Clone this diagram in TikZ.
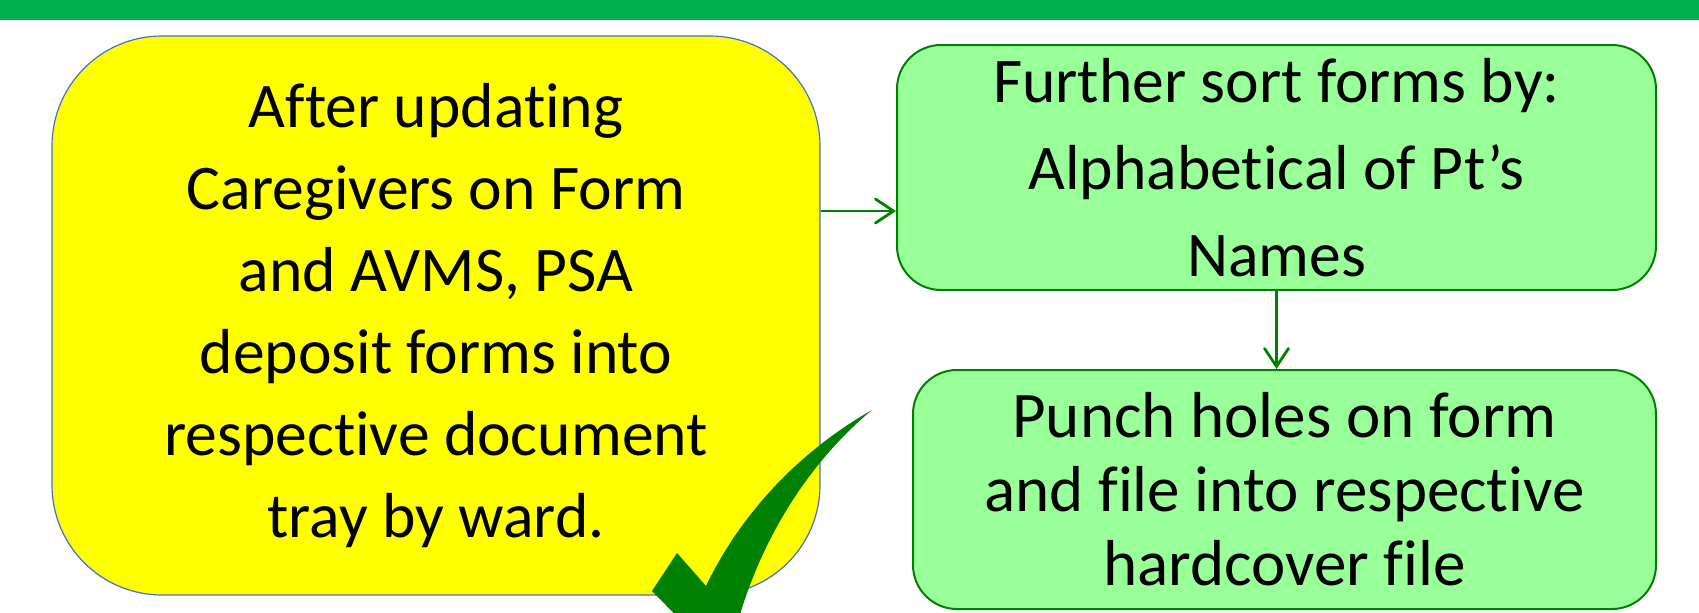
\documentclass[tikz,border=0pt]{standalone}
\usepackage{fontspec}
\setmainfont{Carlito}[Ligatures={NoCommon,NoRequired,NoContextual},RawFeature=-liga]
\usetikzlibrary{arrows.meta}
\usetikzlibrary{positioning}

\definecolor{barg}{HTML}{00B050}
\definecolor{boxy}{HTML}{FFFF00}
\definecolor{edgeb}{HTML}{4472C4}
\definecolor{boxg}{HTML}{99FF99}
\definecolor{darkg}{HTML}{008000}

\begin{document}
\begin{tikzpicture}[
    x=0.5pt, y=-0.5pt,
    font=\fontsize{31.8}{41}\selectfont
]
\tikzset{
    ybox/.style = {rectangle, rounded corners=55pt, draw=edgeb, line width=0.6pt,
                   fill=boxy, align=center, minimum width=384pt, minimum height=279.5pt},
    gbox/.style = {rectangle, rounded corners=22pt, draw=darkg, line width=1pt,
                   fill=boxg, align=center},
    edgeg/.style = {-{Straight Barb[length=9pt,width=12pt,line cap=round]},
                    line width=1.4pt, darkg}
}
\useasboundingbox (0,0) rectangle (1699,612);
\fill[barg] (0,0) rectangle (1699,19.5);
\node[ybox] at (436,315.5) (upd) {After updating\\Caregivers on Form\\and AVMS, PSA\\deposit forms into\\respective document\\tray by ward.};
\node[gbox, minimum width=379.5pt, minimum height=122.5pt,
      font=\fontsize{31.8}{43.5}\selectfont] at (1276.5,167.5) (sort) {Further sort forms by:\\Alphabetical of Pt’s\\Names};
\node[gbox, minimum width=371.5pt, minimum height=119.5pt,
      font=\fontsize{32.5}{37}\selectfont] at (1284.5,489.5) (punch) {Punch holes on form\\and file into respective\\hardcover file};
\draw[edgeg] (upd.east |- 0,211) -- (sort.west |- 0,211);
\draw[edgeg] (sort.south) -- (sort.south |- punch.north);
% tick mark
\begin{scope}
\clip (0,0) rectangle (1699,612);
\fill[darkg] (872,410) .. controls (818,455) and (760,530) .. (733,640)
    -- (708,648) -- (652,591) -- (677,553) -- (706,586)
    .. controls (740,515) and (798,452) .. (872,410) -- cycle;
\end{scope}
\end{tikzpicture}
\end{document}
